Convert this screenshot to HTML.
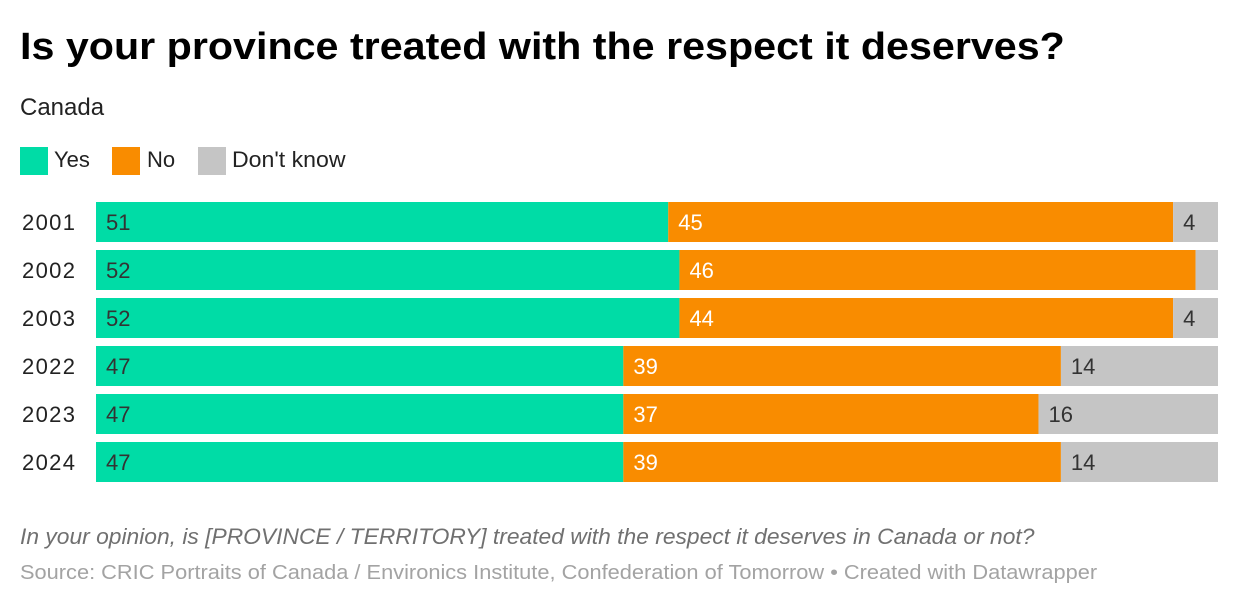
<!DOCTYPE html>
<html><head><meta charset="utf-8">
<style>
body{margin:0;width:1240px;height:608px;background:#fff;font-family:"Liberation Sans",Arial,sans-serif;overflow:hidden;position:relative}
.t{position:absolute;white-space:nowrap;transform-origin:0 0}
</style></head><body>
<div class="t" style="left:20px;top:26px;font-size:38px;font-weight:bold;color:#000;transform:scaleX(1.085)">Is your province treated with the respect it deserves?</div>
<div class="t" style="left:20px;top:94px;font-size:24px;color:#222">Canada</div>
<div>
<div class="t" style="left:20px;top:147px;font-size:22px;color:#222"><span style="display:inline-block;width:28px;height:28px;background:#00dca6;vertical-align:middle;margin-right:6px"></span>Yes</div>
<div class="t" style="left:112px;top:147px;font-size:22px;color:#222"><span style="display:inline-block;width:28px;height:28px;background:#f98c00;vertical-align:middle;margin-right:7px"></span>No</div>
<div class="t" style="left:198px;top:147px;font-size:22px;color:#222"><span style="display:inline-block;width:28px;height:28px;background:#c5c5c5;vertical-align:middle;margin-right:6px"></span><span style="display:inline-block;transform:scaleX(1.05);transform-origin:0 0">Don't know</span></div>
</div>
<svg id="chart" width="1240" height="608" style="position:absolute;left:0;top:0" font-family="Liberation Sans, Arial, sans-serif"></svg>
<div class="t" style="left:20px;top:524px;font-size:22px;font-style:italic;color:#707070;transform:scaleX(1.037)">In your opinion, is [PROVINCE / TERRITORY] treated with the respect it deserves in Canada or not?</div>
<div class="t" style="left:20px;top:562px;font-size:20px;color:#a3a3a3;transform:scaleX(1.09)">Source: CRIC Portraits of Canada / Environics Institute, Confederation of Tomorrow • Created with Datawrapper</div>
<script>
const years=["2001","2002","2003","2022","2023","2024"];
const yes=[51,52,52,47,47,47];
const no=[45,46,44,39,37,39];
const dk=[4,2,4,14,16,14];
const svg=document.getElementById('chart');
const NS='http://www.w3.org/2000/svg';
const x0=96,x1=1218,top0=202,step=48,bh=40;
const xs=v=>(x1-x0)*v/100;
const series=[[yes,'#00dca6','#333','yes'],[no,'#f98c00','#fff','no'],[dk,'#c5c5c5','#333','dont-know']];
years.forEach((yr,i)=>{
  const y=top0+i*step;
  const lab=document.createElementNS(NS,'text');
  
  
  lab.setAttribute('x',22);lab.setAttribute('y',y+28);lab.setAttribute('font-size',22);lab.setAttribute('fill','#222');
  lab.setAttribute('textLength',53);
  lab.textContent=yr;svg.appendChild(lab);
  let cx=x0;
  series.forEach(([arr,col,tc,nm])=>{
    const w=xs(arr[i]);
    const r=document.createElementNS(NS,'rect');
    
    
    r.setAttribute('x',cx);r.setAttribute('y',y);r.setAttribute('width',w);r.setAttribute('height',bh);r.setAttribute('fill',col);
    svg.appendChild(r);
    if(arr[i]>=3){
      const t=document.createElementNS(NS,'text');
      
      
      t.setAttribute('x',cx+10);t.setAttribute('y',y+28);t.setAttribute('font-size',22);t.setAttribute('fill',tc);
      t.textContent=arr[i];svg.appendChild(t);
    }
    cx+=w;
  });
});
</script>
</body></html>
